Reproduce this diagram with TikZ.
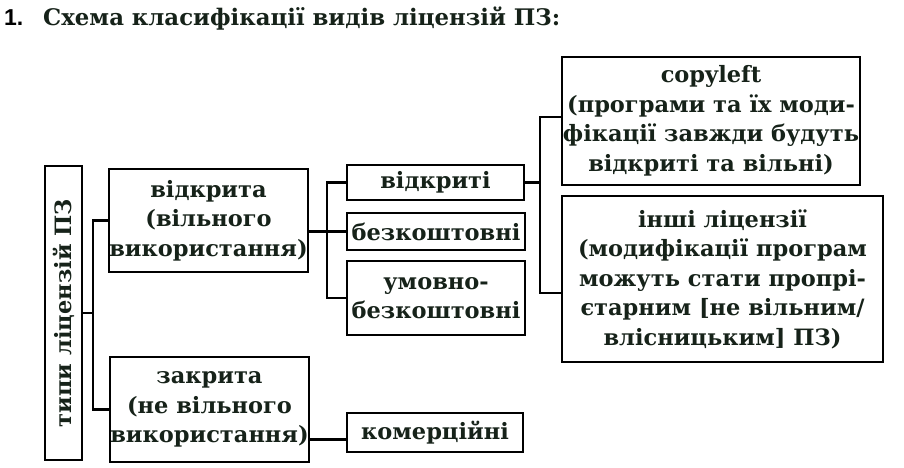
\documentclass[tikz,border=0pt]{standalone}
\usepackage{fontspec}
\setmainfont{DejaVu Serif}
\newfontfamily\numfont{Liberation Sans}
\usetikzlibrary{calc}
\definecolor{ink}{RGB}{22,34,25}
\begin{document}
\begin{tikzpicture}[x=1pt,y=-1pt,
 box/.style={draw=black,line width=2.2pt,inner sep=0pt,align=center,
   font=\bfseries\fontsize{22.5}{29.5}\selectfont,text=ink},
 link/.style={draw=black,line width=2.2pt}]
\useasboundingbox (0,0) rectangle (904,468);
% title
\node[anchor=base west,inner sep=0pt,font=\numfont\bfseries\fontsize{23}{26}\selectfont] (num) at (4,26) {1.};
\node[anchor=base west,inner sep=0pt,text=ink,font=\bfseries\fontsize{22.8}{26}\selectfont] (title) at (43,26) {Схема класифікації видів ліцензій ПЗ:};
% boxes
\node[box,minimum width=37,minimum height=294] (typy) at (63.5,313) {\rotatebox{90}{типи ліцензій ПЗ}};
\node[box,minimum width=199,minimum height=103] (vidkryta) at (208.5,220.5) {відкрита\\(вільного\\використання)};
\node[box,minimum width=199,minimum height=105] (zakryta) at (209.5,409.5) {закрита\\(не вільного\\використання)};
\node[box,minimum width=177,minimum height=35] (vidkryti) at (435.5,182.5) {відкриті};
\node[box,minimum width=178,minimum height=37] (bezk) at (436,231.5) {безкоштовні};
\node[box,minimum width=178,minimum height=74] (umovno) at (436,298) {умовно-\\безкоштовні};
\node[box,minimum width=298,minimum height=128] (copyleft) at (711,121) {copyleft\\(програми та їх моди-\\фікації завжди будуть\\відкриті та вільні)};
\node[box,minimum width=321,minimum height=166] (inshi) at (722.5,279) {інші ліцензії\\(модифікації програм\\можуть стати пропрі-\\єтарним [не вільним/\\влісницьким] ПЗ)};
\node[box,minimum width=176,minimum height=39] (komerc) at (435,432.5) {комерційні};
% connectors
\coordinate (t1) at (93,0);
\coordinate (t2) at (327,0);
\coordinate (t3) at (540,0);
\draw[link] (typy.east) -- (typy.east -| t1);
\draw[link] (vidkryta.west) -| (t1 |- zakryta.west) -- (zakryta.west);
\draw[link] (vidkryta.east |- bezk.west) -- (bezk.west);
\draw[link] (vidkryti.west) -| (t2 |- umovno.west) -- (umovno.west);
\draw[link] (vidkryti.east) -- (vidkryti.east -| t3);
\coordinate (cl) at ($(copyleft.west)+(0,-4)$);
\coordinate (ol) at ($(inshi.west)+(0,14)$);
\draw[link] (cl) -| (t3 |- ol) -- (ol);
\coordinate (kl) at ($(komerc.west)+(0,7)$);
\draw[link] (zakryta.east |- kl) -- (kl);
\end{tikzpicture}
\end{document}
